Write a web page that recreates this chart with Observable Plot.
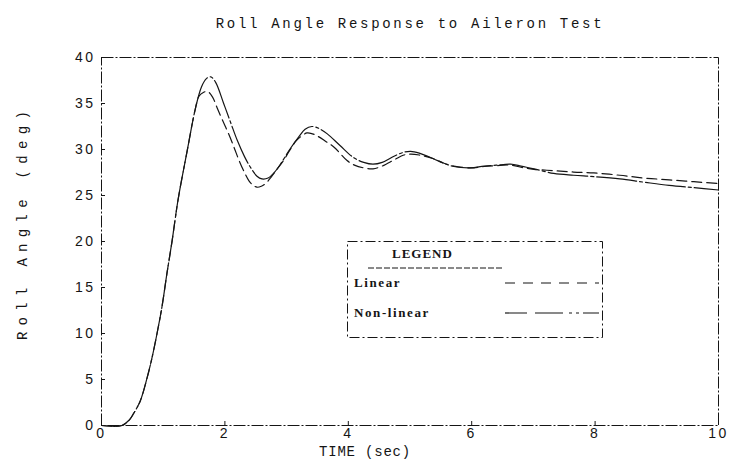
<!DOCTYPE html>
<html><head><meta charset="utf-8">
<script src="https://cdn.jsdelivr.net/npm/d3@7"></script>
<script src="https://cdn.jsdelivr.net/npm/@observablehq/plot@0.6"></script>
<style>
body{margin:0;background:#fff;}
#wrap{position:relative;width:730px;height:467px;}
#legend{position:absolute;left:347px;top:241px;}
</style></head><body><div id="wrap"></div>
<script>
const chartTitle = "Roll Angle Response to Aileron Test";
const xLabel = "TIME (sec)";
const yLabel = "Roll Angle (deg)";
const legendTitle = "LEGEND";
const seriesNames = ["Linear", "Non-linear"];
const xTicks = [0, 2, 4, 6, 8, 10];
const yTicks = [0, 5, 10, 15, 20, 25, 30, 35, 40];

const timeNonlinear = [0, 0.33, 0.45, 0.52, 0.63, 0.74, 0.82, 0.90, 0.98, 1.06, 1.145, 1.24, 1.39, 1.52, 1.62, 1.70, 1.77, 1.85, 1.98, 2.10, 2.20, 2.32, 2.42, 2.52, 2.60, 2.70, 2.80, 2.90, 3.05, 3.20, 3.30, 3.41, 3.52, 3.66, 3.87, 4.09, 4.25, 4.40, 4.55, 4.75, 4.90, 5.01, 5.15, 5.38, 5.55, 5.71, 5.98, 6.20, 6.40, 6.63, 6.80, 7.01, 7.33, 7.65, 7.98, 8.40, 8.79, 9.20, 9.60, 10.0];
const rollNonlinear = [0, 0, 0.6, 1.3, 2.7, 5.2, 7.4, 10.0, 12.9, 16.5, 20.1, 24.5, 29.9, 34.4, 36.8, 37.7, 37.9, 37.3, 35.0, 32.8, 31.0, 29.2, 28.0, 27.1, 26.8, 26.9, 27.5, 28.4, 30.0, 31.4, 32.2, 32.5, 32.3, 31.7, 30.4, 29.1, 28.6, 28.4, 28.6, 29.3, 29.7, 29.8, 29.6, 29.0, 28.5, 28.15, 28.0, 28.2, 28.3, 28.4, 28.2, 27.9, 27.4, 27.2, 27.05, 26.8, 26.45, 26.1, 25.85, 25.6];

const timeLinear = [0, 0.33, 0.45, 0.52, 0.63, 0.74, 0.82, 0.90, 0.98, 1.06, 1.145, 1.24, 1.39, 1.52, 1.58, 1.65, 1.72, 1.80, 1.87, 1.96, 2.06, 2.15, 2.23, 2.31, 2.39, 2.46, 2.52, 2.59, 2.66, 2.75, 2.85, 2.95, 3.05, 3.15, 3.23, 3.33, 3.42, 3.49, 3.63, 3.77, 3.98, 4.10, 4.25, 4.40, 4.55, 4.75, 4.90, 5.01, 5.15, 5.38, 5.55, 5.71, 5.98, 6.20, 6.40, 6.63, 6.85, 7.01, 7.33, 7.65, 7.98, 8.40, 8.79, 9.20, 9.60, 10.0];
const rollLinear = [0, 0, 0.6, 1.3, 2.7, 5.2, 7.4, 10.0, 12.9, 16.5, 20.1, 24.5, 29.9, 34.4, 35.8, 36.2, 36.3, 35.7, 34.6, 33.2, 31.7, 30.2, 28.8, 27.6, 26.6, 26.1, 25.9, 26.0, 26.3, 27.0, 27.9, 28.8, 29.9, 30.9, 31.4, 31.8, 31.7, 31.5, 30.9, 30.25, 28.8, 28.3, 28.0, 27.9, 28.2, 28.9, 29.4, 29.5, 29.4, 29.0, 28.5, 28.2, 28.0, 28.15, 28.25, 28.3, 28.0, 27.85, 27.7, 27.55, 27.45, 27.2, 26.9, 26.7, 26.5, 26.3];

const nonlinearData = timeNonlinear.map((t, i) => ({t, v: rollNonlinear[i]}));
const linearData = timeLinear.map((t, i) => ({t, v: rollLinear[i]}));

const ink = "#151515";
const chart = Plot.plot({
  width: 730, height: 467,
  marginLeft: 101, marginRight: 12, marginTop: 57, marginBottom: 42,
  x: {domain: [0, 10]},
  y: {domain: [0, 40]},
  style: {fontFamily: "Liberation Sans", fontSize: "14px", color: ink, background: "#fff"},
  marks: [
    Plot.frame({stroke: ink, strokeWidth: 1, strokeDasharray: "12 2 2 2"}),
    Plot.axisX(xTicks, {tickSize: -4, tickPadding: 7, label: null, tickFormat: d => String(d), stroke: ink}),
    Plot.axisY(yTicks, {tickSize: -4, tickPadding: 10, label: null, tickFormat: d => String(d), stroke: ink}),
    Plot.line(linearData, {x: "t", y: "v", curve: "catmull-rom", stroke: ink, strokeWidth: 1.2, strokeDasharray: "10 5"}),
    Plot.line(nonlinearData, {x: "t", y: "v", curve: "catmull-rom", stroke: ink, strokeWidth: 1.2, strokeDasharray: "40 3 3 3"}),
    Plot.text([chartTitle], {frameAnchor: "top", dy: -39, fontFamily: "Liberation Mono", fontSize: 14, fill: ink, className: "ttl"}),
    Plot.text([xLabel], {frameAnchor: "bottom", dx: -45, dy: 30, fontFamily: "Liberation Mono", fontSize: 14, fill: ink, className: "xlab"}),
    Plot.text([yLabel], {frameAnchor: "left", textAnchor: "middle", rotate: -90, dx: -79, dy: -19, fontFamily: "Liberation Mono", fontSize: 14, fill: ink, className: "ylab"})
  ]
});
document.getElementById("wrap").appendChild(chart);
const svgSel = d3.select(chart);
svgSel.selectAll(".ttl text").style("letter-spacing", "2.7px");
svgSel.selectAll(".xlab text").style("letter-spacing", "0.8px");
svgSel.selectAll(".ylab text").style("letter-spacing", "6.3px");
svgSel.selectAll('g[aria-label="x-axis tick label"] text, g[aria-label="y-axis tick label"] text').style("letter-spacing", "2.5px");

// Legend box
const lg = d3.select("#wrap").append("svg").attr("id", "legend").attr("width", 257).attr("height", 98)
  .style("font-family", "Liberation Serif").style("font-size", "13px").style("font-weight", "bold");
lg.append("rect").attr("x", 0.5).attr("y", 0.5).attr("width", 255).attr("height", 96)
  .attr("fill", "#fff").attr("stroke", ink).attr("stroke-width", 1).attr("stroke-dasharray", "10 3 2 3");
lg.append("text").attr("x", 45).attr("y", 17).attr("fill", ink).style("letter-spacing", "1px").text(legendTitle);
lg.append("line").attr("x1", 21).attr("x2", 156).attr("y1", 27).attr("y2", 27)
  .attr("stroke", ink).attr("stroke-dasharray", "6 2");
const sampleDash = ["10 8", "22 8 28 6 3 4 3 4"];
seriesNames.forEach((name, i) => {
  const yy = 42 + i * 30;
  lg.append("text").attr("x", 7).attr("y", yy + 4).attr("fill", ink).style("letter-spacing", "1.6px").text(name);
  lg.append("line").attr("x1", 158).attr("x2", 252).attr("y1", yy).attr("y2", yy)
    .attr("stroke", ink).attr("stroke-width", 1.2).attr("stroke-dasharray", sampleDash[i]);
});
</script></body></html>
